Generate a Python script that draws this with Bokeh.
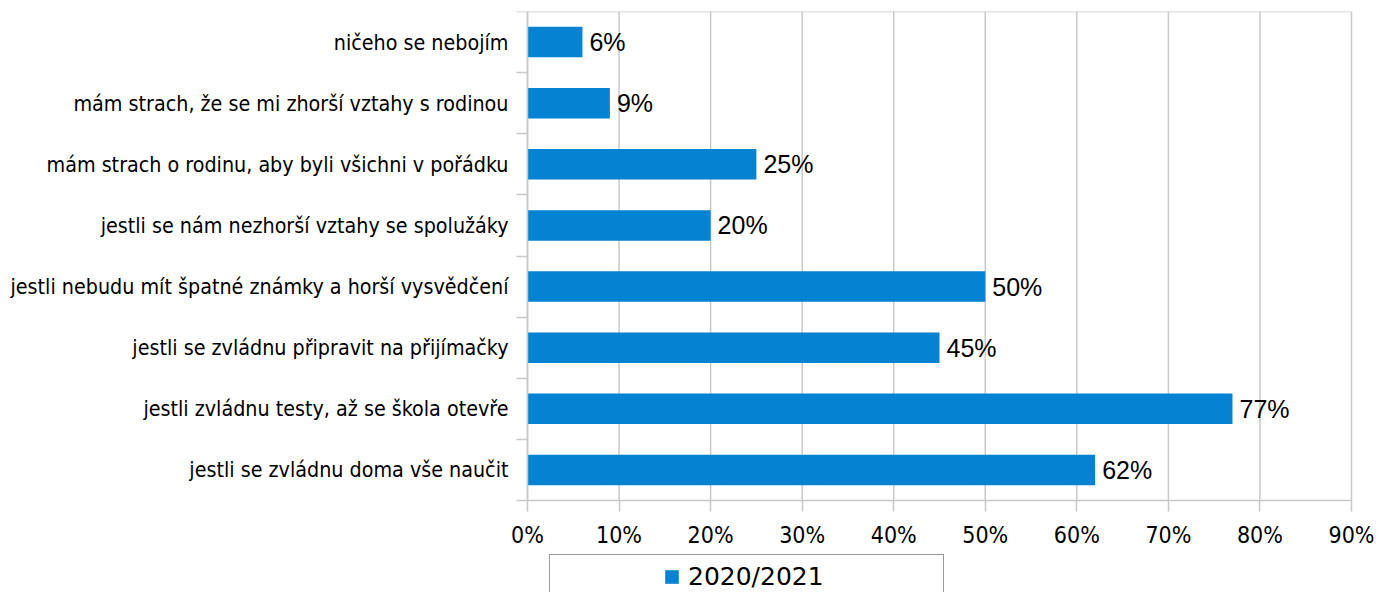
from bokeh.plotting import figure
from bokeh.models import (Range1d, FixedTicker, PrintfTickFormatter, Legend, LegendItem)
from bokeh.core.properties import value
from bokeh.embed import file_html
from bokeh.resources import INLINE

categories = [
    "ničeho se nebojím",
    "mám strach, že se mi zhorší vztahy s rodinou",
    "mám strach o rodinu, aby byli všichni v pořádku",
    "jestli se nám nezhorší vztahy se spolužáky",
    "jestli nebudu mít špatné známky a horší vysvědčení",
    "jestli se zvládnu připravit na přijímačky",
    "jestli zvládnu testy, až se škola otevře",
    "jestli se zvládnu doma vše naučit",
]
values = [6, 9, 25, 20, 50, 45, 77, 62]
series_name = "2020/2021"
x_ticks = [0, 10, 20, 30, 40, 50, 60, 70, 80, 90]

n = len(categories)
ys = [n - i - 0.5 for i in range(n)]
labels = [f"{v}%" for v in values]
x_min, x_max = x_ticks[0], x_ticks[-1]

BAR = "#0582d2"
GRID = "#c8c8c8"
COND = "DejaVu Sans Condensed"

# layout (pixels): plot area spans x 527..1351 and y 11..500 of a 1384x592 canvas
W, H = 1384, 592
LEFT, RIGHT, TOP, BOTTOM = 527, 1351, 11, 500
ppx = (RIGHT - LEFT) / (x_max - x_min)
ppy = (BOTTOM - TOP) / n
x_range = Range1d(x_min - LEFT / ppx, x_max + (W - RIGHT) / ppx)
y_range = Range1d(n - (H - TOP) / ppy, n)

p = figure(width=W, height=H, output_backend="svg", toolbar_location=None,
           x_range=x_range, y_range=y_range,
           min_border_left=0, min_border_right=0, min_border_top=TOP, min_border_bottom=0)
p.background_fill_color = "white"
p.border_fill_color = "white"
p.outline_line_color = None

# vertical gridlines and top border, limited to the bar area
p.segment(x0=x_ticks, y0=[0] * len(x_ticks), x1=x_ticks, y1=[n] * len(x_ticks),
          line_color=GRID, line_width=1.5)
p.segment(x0=[x_min], y0=[n], x1=[x_max], y1=[n], line_color=GRID, line_width=1.5)

r = p.hbar(y=ys, right=values, left=0, height=0.5, color=BAR, line_color=None)
p.text(x=values, y=ys, text=labels, x_offset=7, text_baseline="middle",
       text_font=value("Liberation Sans"), text_font_size="25px", text_color="black")

# invisible spacer renderer used to centre the legend entry inside its box
spacer = p.scatter(x=[], y=[], size=1, fill_alpha=0, line_alpha=0)

# x axis, pinned at y=0
p.xaxis.fixed_location = 0
p.xaxis.bounds = (x_min, x_max)
p.xaxis.ticker = FixedTicker(ticks=x_ticks)
p.xaxis.formatter = PrintfTickFormatter(format="%d%%")
p.xaxis.axis_line_color = GRID
p.xaxis.axis_line_width = 1.5
p.xaxis.major_tick_line_color = GRID
p.xaxis.major_tick_line_width = 1.5
p.xaxis.major_tick_out = 11
p.xaxis.major_tick_in = 0
p.xaxis.minor_tick_line_color = None
p.xaxis.major_label_standoff = 10
p.xaxis.major_label_text_font = COND
p.xaxis.major_label_text_font_size = "23px"
p.xaxis.major_label_text_color = "black"

# y axis pinned at x=0: labels at centres, small ticks at category boundaries
p.yaxis.fixed_location = 0
p.yaxis.bounds = (0, n)
p.yaxis.ticker = FixedTicker(ticks=ys, minor_ticks=list(range(n + 1)))
p.yaxis.major_label_overrides = {y: c for y, c in zip(ys, categories)}
p.yaxis.axis_line_color = GRID
p.yaxis.axis_line_width = 1.5
p.yaxis.major_tick_line_color = None
p.yaxis.major_tick_out = 0
p.yaxis.major_tick_in = 0
p.yaxis.minor_tick_line_color = GRID
p.yaxis.minor_tick_line_width = 1.5
p.yaxis.minor_tick_out = 11
p.yaxis.minor_tick_in = 0
p.yaxis.major_label_standoff = 8
p.yaxis.major_label_text_font = COND
p.yaxis.major_label_text_font_size = "21.3px"
p.yaxis.major_label_text_color = "black"

p.xgrid.visible = False
p.ygrid.visible = False

legend = Legend(items=[LegendItem(label=" ", renderers=[spacer]),
                       LegendItem(label=series_name, renderers=[r]),
                       LegendItem(label="\u00a0" * 11, renderers=[spacer])],
                orientation="horizontal",
                location=(549, -7), margin=0, padding=7, spacing=0,
                glyph_width=17, glyph_height=17, label_height=28, label_standoff=8,
                label_width=81,
                label_text_font="DejaVu Sans", label_text_font_size="25px",
                label_text_color="black",
                border_line_color="#333333", border_line_width=1.2,
                background_fill_color="white", background_fill_alpha=1)
p.add_layout(legend, "center")

open("out.html", "w").write(file_html(p, INLINE))
